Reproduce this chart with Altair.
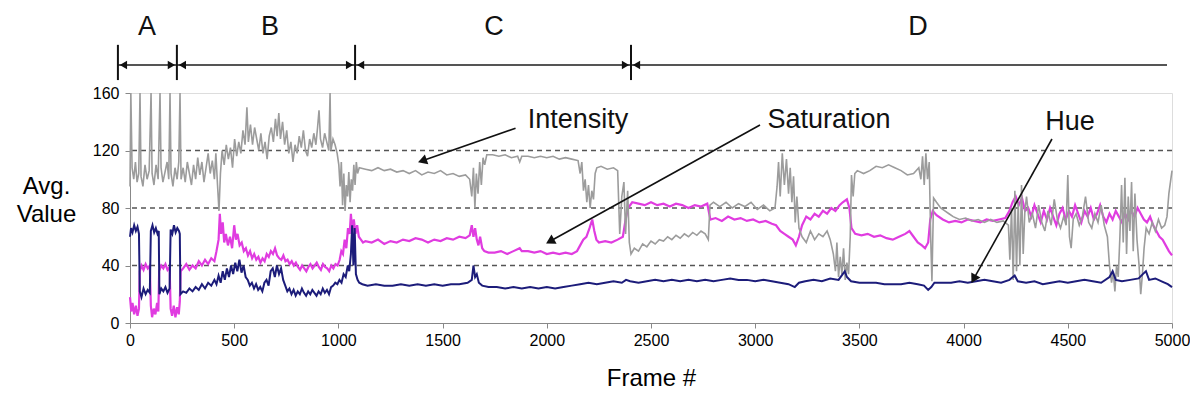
import math
import altair as alt
import pandas as pd

# ---------------- data ----------------
X_MAX = 5000
Y_MAX = 160
Y_TICKS = [0, 40, 80, 120, 160]
X_TICKS = [0, 500, 1000, 1500, 2000, 2500, 3000, 3500, 4000, 4500, 5000]
GRID_VALUES = [40, 80, 120]

# (frame, avg value)
intensity = [
    (0, 95), (4, 160), (10, 108), (18, 100), (26, 112), (34, 98), (42, 104), (48, 160), (53, 102), (62, 95),
    (72, 110), (82, 100), (92, 106), (101, 160), (106, 104), (115, 96), (125, 110), (135, 100), (144, 160),
    (149, 108), (158, 98), (168, 105), (178, 112), (186, 100), (192, 160), (197, 104), (206, 95), (216, 108),
    (226, 100), (234, 112), (240, 160), (245, 100),
    (255, 108), (265, 98), (275, 112), (285, 104), (295, 96), (305, 110), (315, 100), (325, 115), (335, 103),
    (345, 112), (355, 98), (365, 108), (375, 118), (385, 104), (395, 113), (405, 100), (412, 118), (420, 96),
    (427, 78), (434, 104), (442, 120), (452, 110), (462, 124), (472, 114), (482, 122), (492, 108), (502, 128),
    (512, 116), (522, 126), (532, 118), (542, 134), (552, 124), (561, 150), (568, 126), (578, 138), (588, 124),
    (598, 136), (608, 128), (618, 120), (628, 132), (638, 118), (648, 126), (658, 114), (668, 130), (678, 136),
    (688, 126), (698, 142), (706, 130), (714, 146), (722, 128), (732, 140), (742, 124), (752, 134), (762, 118),
    (772, 126), (782, 112), (792, 124), (802, 118), (812, 130), (822, 122), (832, 134), (842, 120), (852, 116),
    (862, 128), (872, 122), (882, 132), (892, 124), (900, 136), (907, 148), (914, 128), (924, 122), (934, 132),
    (944, 126), (954, 120), (960, 160), (964, 120), (974, 128), (984, 124), (994, 118), (1002, 110), (1008, 95),
    (1014, 112), (1020, 82), (1026, 104), (1032, 78), (1038, 96), (1044, 88), (1050, 105), (1056, 84),
    (1062, 100), (1068, 92), (1074, 110), (1080, 96), (1086, 112), (1092, 104),
    (1100, 108), (1130, 107), (1160, 106), (1190, 108), (1220, 106), (1250, 107), (1280, 105), (1310, 106),
    (1340, 104), (1370, 106), (1400, 103), (1430, 105), (1460, 104), (1490, 106), (1520, 103), (1550, 104),
    (1580, 102), (1610, 103), (1630, 100), (1640, 88), (1648, 108), (1655, 80), (1662, 104), (1670, 90),
    (1678, 112), (1686, 96), (1694, 115), (1702, 110), (1712, 117), (1740, 117), (1770, 116), (1800, 117),
    (1830, 115), (1860, 116), (1870, 112), (1880, 116), (1910, 116), (1940, 115), (1970, 116), (2000, 115),
    (2030, 116), (2060, 114), (2090, 115), (2120, 114), (2150, 113), (2160, 104), (2168, 112), (2176, 92),
    (2184, 100), (2192, 84), (2200, 96), (2208, 80), (2216, 92), (2224, 86), (2232, 104), (2240, 108),
    (2260, 109), (2290, 107), (2320, 108), (2340, 106), (2350, 62), (2360, 88), (2370, 98), (2378, 62),
    (2388, 92), (2396, 56),
    (2404, 48), (2420, 52), (2440, 50), (2460, 55), (2480, 53), (2500, 57), (2520, 55), (2540, 58), (2560, 57),
    (2580, 60), (2600, 58), (2620, 61), (2640, 59), (2660, 62), (2680, 60), (2700, 63), (2720, 61), (2740, 64),
    (2760, 62), (2775, 58), (2783, 82), (2800, 84), (2830, 81), (2860, 84), (2890, 80), (2920, 83), (2950, 81),
    (2980, 84), (3010, 79), (3040, 82), (3070, 78), (3095, 80), (3105, 95), (3112, 112), (3120, 88),
    (3130, 118), (3140, 96), (3150, 114), (3160, 90), (3168, 108), (3176, 84), (3184, 102), (3192, 70),
    (3200, 88), (3210, 66), (3225, 60), (3245, 56), (3265, 64), (3285, 58), (3305, 62), (3325, 60), (3345, 64),
    (3360, 58), (3375, 48), (3385, 36), (3392, 56), (3400, 32), (3408, 46), (3416, 34), (3424, 52), (3432, 30),
    (3440, 42), (3448, 34), (3456, 60), (3462, 103), (3470, 88), (3478, 104), (3490, 106), (3520, 104),
    (3550, 106), (3580, 109), (3610, 108), (3640, 110), (3670, 108), (3700, 106), (3730, 103), (3760, 104),
    (3785, 108), (3795, 100), (3803, 116), (3811, 96), (3819, 118), (3827, 100), (3835, 112), (3842, 60),
    (3848, 29), (3856, 87), (3870, 84), (3890, 80), (3910, 78), (3930, 76), (3950, 74), (3980, 72), (4010, 73),
    (4040, 71), (4070, 72), (4100, 70), (4130, 72), (4160, 70), (4190, 71), (4215, 68), (4222, 44), (4230, 80),
    (4238, 30), (4246, 92), (4254, 36), (4262, 84), (4270, 40), (4278, 96), (4286, 48), (4294, 78), (4302, 88),
    (4315, 70), (4330, 76), (4345, 66), (4360, 82), (4375, 70), (4390, 64), (4405, 78), (4420, 68), (4435, 86),
    (4450, 72), (4465, 66), (4480, 74), (4492, 68), (4500, 103), (4508, 60), (4516, 52), (4526, 72), (4540, 76),
    (4555, 68), (4570, 74), (4585, 88), (4600, 70), (4615, 66), (4630, 76), (4645, 70), (4660, 82), (4675, 68),
    (4690, 60), (4700, 40), (4710, 28), (4718, 36), (4726, 22), (4734, 40), (4742, 32), (4750, 60), (4758, 96),
    (4766, 56), (4774, 101), (4782, 48), (4790, 88), (4798, 64), (4806, 98), (4814, 50), (4822, 90), (4832, 58),
    (4842, 40), (4850, 20), (4858, 34), (4866, 52), (4876, 66), (4890, 62), (4905, 70), (4920, 64), (4935, 72),
    (4950, 66), (4965, 68), (4976, 74), (4985, 90), (5000, 106),
]

saturation = [
    (0, 18), (6, 8), (12, 14), (20, 6), (28, 12), (36, 5), (43, 10), (47, 36), (55, 40), (65, 37), (75, 41),
    (85, 38), (95, 40), (100, 12), (106, 4), (114, 10), (122, 6), (130, 14), (136, 8), (140, 36), (150, 40),
    (160, 38), (170, 41), (180, 37), (190, 39), (195, 10), (202, 5), (210, 12), (218, 4), (226, 11), (234, 6),
    (239, 15), (243, 36),
    (255, 38), (270, 41), (285, 37), (300, 40), (315, 38), (330, 43), (345, 40), (360, 44), (375, 41), (390, 45),
    (405, 43), (415, 50), (425, 58), (431, 76), (437, 62), (445, 70), (452, 56), (460, 62), (470, 54), (480, 60),
    (490, 52), (500, 68), (508, 58), (516, 62), (526, 54), (536, 56), (546, 50), (556, 52), (566, 47), (576, 50),
    (586, 45), (596, 48), (606, 44), (616, 46), (626, 42), (636, 45), (646, 43), (656, 48), (666, 46), (676, 50),
    (686, 48), (696, 52), (706, 47), (716, 45), (726, 44), (736, 47), (746, 43), (756, 44), (766, 41), (776, 43),
    (786, 40), (796, 42), (806, 39), (816, 37), (826, 40), (836, 38), (846, 36), (856, 39), (866, 41), (876, 38),
    (886, 40), (896, 42), (906, 39), (916, 37), (926, 41), (936, 39), (946, 38), (956, 36), (966, 40), (976, 38),
    (986, 41), (996, 40), (1006, 44), (1014, 50), (1022, 48), (1030, 58), (1038, 52), (1046, 66), (1054, 62),
    (1060, 76), (1066, 64), (1074, 72), (1082, 62), (1090, 68), (1098, 60), (1108, 58), (1118, 56),
    (1130, 57), (1160, 56), (1190, 58), (1220, 55), (1250, 57), (1280, 56), (1310, 58), (1340, 57), (1370, 59),
    (1400, 58), (1430, 56), (1460, 58), (1490, 57), (1520, 59), (1550, 58), (1580, 60), (1610, 59), (1630, 61),
    (1640, 68), (1648, 60), (1656, 66), (1664, 58), (1672, 54), (1680, 60), (1690, 52), (1700, 50), (1720, 49),
    (1750, 49), (1780, 50), (1810, 48), (1840, 50), (1870, 52), (1880, 50), (1910, 50), (1940, 49), (1970, 50),
    (2000, 48), (2030, 49), (2060, 48), (2090, 49), (2120, 48), (2145, 50), (2160, 54), (2175, 58), (2190, 60),
    (2205, 66), (2218, 72), (2228, 64), (2238, 58), (2250, 56), (2280, 57), (2310, 56), (2340, 58), (2365, 60),
    (2378, 72), (2390, 80),
    (2410, 84), (2440, 83), (2470, 82), (2500, 84), (2530, 82), (2560, 83), (2590, 81), (2620, 83), (2650, 82),
    (2680, 80), (2710, 82), (2740, 81), (2770, 83), (2785, 72), (2810, 73), (2840, 71), (2870, 74), (2900, 72),
    (2930, 73), (2960, 71), (2990, 72), (3020, 70), (3050, 71), (3080, 69), (3100, 68), (3120, 64), (3140, 62),
    (3160, 60), (3180, 58), (3195, 54), (3210, 60), (3225, 68), (3245, 74), (3265, 72), (3285, 76), (3305, 74),
    (3325, 78), (3345, 76), (3365, 80), (3385, 78), (3405, 82), (3420, 84), (3440, 86), (3452, 80), (3462, 66),
    (3480, 62), (3510, 61), (3540, 62), (3570, 60), (3600, 61), (3630, 59), (3660, 58), (3690, 60), (3720, 62),
    (3740, 64), (3760, 60), (3780, 56), (3800, 54), (3815, 52), (3830, 56), (3840, 72), (3852, 78), (3870, 75),
    (3900, 72), (3930, 70), (3960, 71), (3990, 70), (4020, 72), (4050, 71), (4080, 70), (4110, 72), (4140, 71),
    (4170, 72), (4200, 73), (4220, 78), (4235, 84), (4250, 88), (4265, 82), (4280, 87), (4295, 78), (4310, 80),
    (4325, 74), (4340, 82), (4355, 76), (4370, 70), (4385, 78), (4400, 72), (4415, 80), (4430, 74), (4445, 68),
    (4460, 76), (4475, 80), (4490, 72), (4505, 78), (4520, 74), (4535, 82), (4550, 76), (4565, 70), (4580, 78),
    (4595, 74), (4610, 80), (4625, 72), (4640, 76), (4655, 82), (4670, 74), (4685, 70), (4700, 76), (4715, 72),
    (4730, 78), (4745, 74), (4760, 70), (4775, 76), (4790, 72), (4805, 78), (4820, 74), (4835, 80), (4850, 76),
    (4865, 72), (4880, 70), (4895, 74), (4910, 68), (4925, 64), (4940, 60), (4955, 58), (4970, 54), (4985, 50),
    (5000, 47),
]

hue = [
    (0, 60), (5, 66), (12, 63), (20, 68), (28, 64), (36, 67), (43, 62), (47, 22), (55, 18), (65, 24), (75, 20),
    (85, 23), (95, 21), (100, 64), (108, 68), (116, 63), (124, 66), (132, 62), (138, 64), (141, 20), (150, 24),
    (160, 22), (170, 25), (180, 21), (190, 24), (195, 65), (203, 62), (211, 68), (219, 63), (227, 66), (235, 64),
    (239, 62), (242, 20),
    (255, 22), (270, 21), (285, 24), (300, 22), (315, 25), (330, 23), (345, 27), (360, 24), (375, 28), (390, 26),
    (405, 30), (415, 27), (425, 33), (435, 28), (445, 36), (455, 30), (465, 38), (475, 32), (485, 40), (495, 34),
    (505, 42), (515, 36), (525, 44), (535, 35), (545, 40), (555, 32), (565, 30), (575, 26), (585, 28), (595, 24),
    (605, 27), (615, 23), (625, 25), (635, 22), (645, 28), (655, 30), (665, 26), (675, 36), (685, 38), (695, 32),
    (705, 40), (715, 34), (725, 38), (735, 30), (745, 26), (755, 22), (765, 24), (775, 20), (785, 23), (795, 19),
    (805, 22), (815, 20), (825, 24), (835, 21), (845, 19), (855, 22), (865, 20), (875, 23), (885, 21), (895, 19),
    (905, 22), (915, 20), (925, 24), (935, 21), (945, 23), (955, 20), (965, 25), (975, 26), (985, 28), (995, 27),
    (1005, 30), (1015, 28), (1025, 34), (1035, 32), (1045, 40), (1052, 36), (1060, 48), (1066, 68), (1072, 40),
    (1078, 66), (1084, 34), (1092, 30), (1100, 28), (1115, 27),
    (1140, 26), (1180, 27), (1220, 26), (1260, 26), (1300, 27), (1340, 26), (1380, 27), (1420, 26), (1460, 27),
    (1500, 26), (1540, 27), (1580, 27), (1620, 28), (1640, 30), (1648, 40), (1656, 32), (1664, 34), (1674, 28),
    (1690, 26), (1720, 25), (1760, 25), (1800, 24), (1840, 25), (1880, 24), (1920, 25), (1960, 24), (2000, 25),
    (2040, 24), (2080, 25), (2120, 26), (2160, 27), (2200, 28), (2240, 27), (2280, 28), (2320, 29), (2360, 28),
    (2380, 30), (2400, 29),
    (2440, 28), (2480, 29), (2520, 30), (2560, 29), (2600, 30), (2640, 29), (2680, 30), (2720, 29), (2760, 30),
    (2800, 29), (2840, 30), (2880, 31), (2920, 30), (2960, 30), (3000, 29), (3040, 30), (3080, 29), (3120, 28),
    (3160, 27), (3190, 25), (3210, 28), (3240, 29), (3280, 30), (3320, 29), (3360, 31), (3400, 30), (3420, 34),
    (3430, 36), (3440, 32), (3460, 29), (3500, 28), (3540, 28), (3580, 28), (3620, 27), (3660, 27), (3700, 27),
    (3740, 28), (3780, 27), (3810, 26), (3830, 23), (3845, 25), (3860, 28), (3900, 28), (3940, 28), (3980, 29),
    (4020, 28), (4060, 29), (4100, 30), (4140, 29), (4180, 28), (4220, 30), (4245, 33), (4260, 29), (4300, 28),
    (4340, 29), (4380, 27), (4420, 28), (4460, 29), (4500, 28), (4540, 29), (4580, 30), (4620, 29), (4660, 28),
    (4700, 32), (4715, 36), (4730, 30), (4760, 29), (4800, 30), (4840, 31), (4860, 34), (4875, 36), (4890, 30),
    (4920, 31), (4950, 29), (4980, 27), (5000, 25),
]

# segment markers above the plot (frames)
segment_bounds = [-58, 225, 1080, 2404]
segment_end = 4976
segment_names = ["A", "B", "C", "D"]
segment_label_frames = [82, 672, 1747, 3781]
SEG_LINE_Y = 179.5
SEG_TICK_LOW, SEG_TICK_HIGH = 169, 193.5
SEG_LABEL_Y = 206

# callouts: label, label position, arrow start, arrow tip (frame, value)
callout_labels = ["Intensity", "Saturation", "Hue"]
callout_text_pos = [(2150, 141), (3354, 141), (4511, 140)]
callout_arrow_start = [(1850, 135.5), (3023, 137.7), (4424, 128.0)]
callout_arrow_tip = [(1387, 112.0), (2001, 55.7), (4040, 28.5)]

# ---------------- layout ----------------
W, H = 1042, 230
PX_X = W / X_MAX
PX_Y = H / Y_MAX
FONT = "Liberation Sans"

X_SCALE = alt.Scale(domain=[0, X_MAX], nice=False, zero=False)
Y_SCALE = alt.Scale(domain=[0, Y_MAX], nice=False, zero=False)
X_AXIS = alt.Axis(title="Frame #", values=X_TICKS, grid=False, tickSize=5, labelFontSize=16,
                  titleFontSize=24, titlePadding=18, labelPadding=4, format="d", labelFlush=False,
                  titleFontWeight="normal")
Y_AXIS = alt.Axis(title=["Avg.", "Value"], values=Y_TICKS, grid=False, tickSize=5, labelFontSize=16,
                  titleAngle=0, titleAlign="center", titleBaseline="middle", titleX=-84, titleY=93,
                  titleFontSize=24, titleLineHeight=28, labelPadding=6, titleFontWeight="normal")


def xe(field="x"):
    return alt.X(f"{field}:Q", scale=X_SCALE, axis=X_AXIS)


def ye(field="y"):
    return alt.Y(f"{field}:Q", scale=Y_SCALE, axis=Y_AXIS)


def series_df(pairs):
    return pd.DataFrame({"x": [p[0] for p in pairs], "y": [p[1] for p in pairs],
                         "i": list(range(len(pairs)))})


grid = alt.Chart(pd.DataFrame({"y": GRID_VALUES})).mark_rule(
    color="#555555", strokeDash=[5, 4], strokeWidth=1.6).encode(y=ye())


def line(pairs, color, width):
    return alt.Chart(series_df(pairs)).mark_line(color=color, strokeWidth=width, interpolate="linear").encode(
        x=xe(), y=ye(), order=alt.Order("i:Q"))


sat_line = line(saturation, "#e03ce0", 2.2)
int_line = line(intensity, "#9c9c9c", 1.6)
hue_line = line(hue, "#1c1c7a", 2.0)

# segment markers
seg_line = alt.Chart(pd.DataFrame({"x": [segment_bounds[0]], "x2": [segment_end], "y": [SEG_LINE_Y]})).mark_rule(
    color="#555555", strokeWidth=2).encode(x=xe(), x2="x2:Q", y=ye())
seg_ticks = alt.Chart(pd.DataFrame({"x": segment_bounds, "y": [SEG_TICK_LOW] * 4, "y2": [SEG_TICK_HIGH] * 4})).mark_rule(
    color="#111111", strokeWidth=2).encode(x=xe(), y=ye(), y2="y2:Q")

off = 5.5 / PX_X
heads = []
for k, b in enumerate(segment_bounds):
    heads.append({"x": b + off, "y": SEG_LINE_Y, "shape": "triangle-left"})
    if k > 0:
        heads.append({"x": b - off, "y": SEG_LINE_Y, "shape": "triangle-right"})
seg_heads = alt.Chart(pd.DataFrame(heads)).mark_point(filled=True, color="#111111", opacity=1, size=70).encode(
    x=xe(), y=ye(), shape=alt.Shape("shape:N", scale=None))
seg_text = alt.Chart(pd.DataFrame({"x": segment_label_frames, "y": [SEG_LABEL_Y] * 4, "t": segment_names})).mark_text(
    font=FONT, fontSize=27, color="#111111", align="center", baseline="middle").encode(x=xe(), y=ye(), text="t:N")

# callouts
call_text = alt.Chart(pd.DataFrame({"x": [p[0] for p in callout_text_pos], "y": [p[1] for p in callout_text_pos],
                                    "t": callout_labels})).mark_text(
    font=FONT, fontSize=27, color="#111111", align="center", baseline="middle").encode(x=xe(), y=ye(), text="t:N")

arrow_rows = []
head_rows = []
for (sx, sy), (tx, ty) in zip(callout_arrow_start, callout_arrow_tip):
    dx = (tx - sx) * PX_X
    dy = -(ty - sy) * PX_Y
    ln = math.hypot(dx, dy)
    ang = math.degrees(math.atan2(dx, -dy)) % 360
    back = 5.0
    hx = tx - dx / ln * back / PX_X
    hy = ty + dy / ln * back / PX_Y
    arrow_rows.append({"x": sx, "y": sy, "x2": hx, "y2": hy})
    head_rows.append({"x": hx, "y": hy, "angle": ang})

call_lines = alt.Chart(pd.DataFrame(arrow_rows)).mark_rule(color="#111111", strokeWidth=1.6).encode(
    x=xe(), y=ye(), x2="x2:Q", y2="y2:Q")
call_heads = alt.Chart(pd.DataFrame(head_rows)).mark_point(
    shape="triangle", filled=True, color="#111111", opacity=1, size=110).encode(
    x=xe(), y=ye(), angle=alt.Angle("angle:Q", scale=None))

chart = alt.layer(
    grid, sat_line, int_line, hue_line,
    seg_line, seg_ticks, seg_heads, seg_text,
    call_lines, call_heads, call_text,
).properties(
    width=W, height=H,
    autosize=alt.AutoSizeParams(type="none"),
    padding={"left": 122, "top": 85, "right": 18, "bottom": 69},
).configure_view(
    stroke="#6e6e6e", strokeWidth=2.5,
).configure_axis(
    domainColor="#6e6e6e", domainWidth=1.5, tickColor="#555555", labelColor="#333333",
    titleColor="#222222", labelFont=FONT, titleFont=FONT, titleFontWeight="normal",
).configure(background="white")

chart.save("out.html", embed_options={"renderer": "svg", "actions": False})
